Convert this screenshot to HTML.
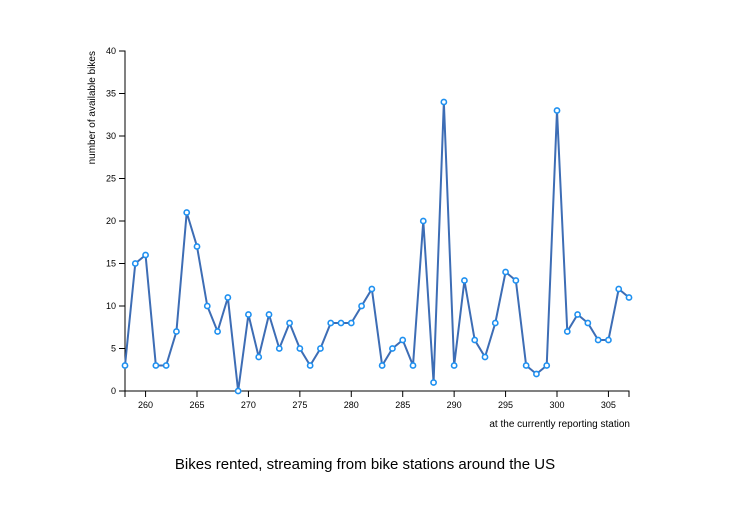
<!DOCTYPE html>
<html><head><meta charset="utf-8"><style>
body{margin:0;background:#fff;width:740px;height:502px;overflow:hidden}
svg{font-family:"Liberation Sans",sans-serif}
</style></head><body>
<svg id="chart" width="740" height="502">
<g id="axes"></g><g id="plot"></g>
<text x="630" y="427" font-size="10" text-anchor="end" fill="#000">at the currently reporting station</text>
<text transform="translate(95,51) rotate(-90)" font-size="10" text-anchor="end" fill="#000">number of available bikes</text>
<text x="365" y="469" font-size="15" text-anchor="middle" fill="#000">Bikes rented, streaming from bike stations around the US</text>
</svg>
<script>
const stations=[258,259,260,261,262,263,264,265,266,267,268,269,270,271,272,273,274,275,276,277,278,279,280,281,282,283,284,285,286,287,288,289,290,291,292,293,294,295,296,297,298,299,300,301,302,303,304,305,306,307];
const bikes=[3,15,16,3,3,7,21,17,10,7,11,0,9,4,9,5,8,5,3,5,8,8,8,10,12,3,5,6,3,20,1,34,3,13,6,4,8,14,13,3,2,3,33,7,9,8,6,6,12,11];
const xTicks=[260,265,270,275,280,285,290,295,300,305];
const yTicks=[0,5,10,15,20,25,30,35,40];
const NS="http://www.w3.org/2000/svg";
const x=v=>125+(v-258)*(504/49);
const y=v=>391-v*8.5;
const axes=document.getElementById('axes'),plot=document.getElementById('plot');
function mk(tag,attrs,parent){const e=document.createElementNS(NS,tag);for(const k in attrs)e.setAttribute(k,attrs[k]);parent.appendChild(e);return e;}
let xa=mk('path',{d:'M125,397V391H629V397',fill:'none',stroke:'#000'},axes);


let ya=mk('path',{d:'M119,51H125V391H119',fill:'none',stroke:'#000'},axes);


xTicks.forEach(t=>{mk('line',{x1:x(t),x2:x(t),y1:391,y2:397,stroke:'#000'},axes);
 const tx=mk('text',{x:x(t),y:408,'font-size':9,'text-anchor':'middle'},axes);tx.textContent=t;
 
 });
yTicks.forEach(t=>{mk('line',{x1:119,x2:125,y1:y(t),y2:y(t),stroke:'#000'},axes);
 const tx=mk('text',{x:116,y:y(t)+3,'font-size':9,'text-anchor':'end'},axes);tx.textContent=t;
 
 });
const line=mk('path',{d:stations.map((s,i)=>(i?'L':'M')+x(s)+','+y(bikes[i])).join(''),fill:'none',stroke:'#3d6db5','stroke-width':2},plot);


stations.forEach((s,i)=>{const c=mk('circle',{cx:x(s),cy:y(bikes[i]),r:2.6,fill:'#fff',stroke:'#1e90f0','stroke-width':1.6},plot);
 
 });
</script>
</body></html>
